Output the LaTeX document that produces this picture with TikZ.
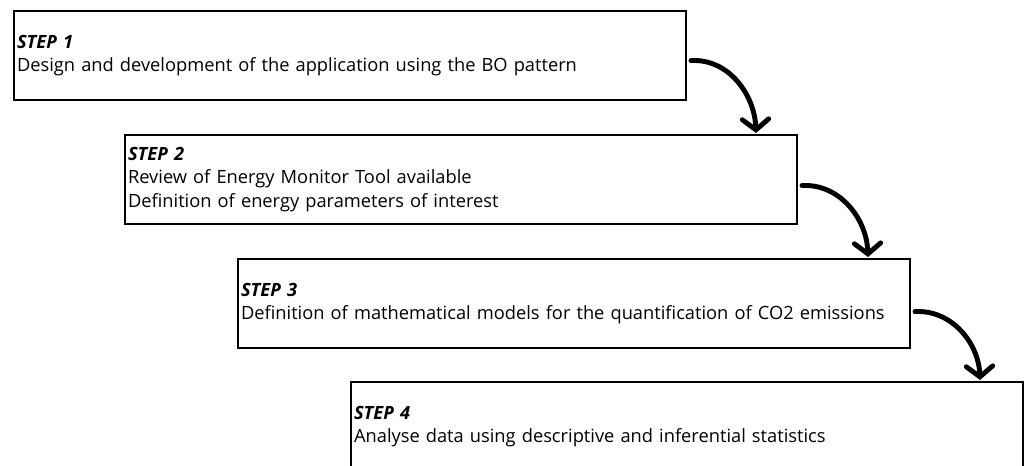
\documentclass[tikz,border=0pt]{standalone}
\usepackage{fontspec}
\setmainfont{Open Sans}
\usetikzlibrary{arrows.meta}

\tikzset{
    stepbox/.style = {draw, line width=1.2pt, anchor=north west, align=left,
                      text width=13.32cm, inner xsep=0.06cm, inner ysep=0pt,
                      minimum height=1.78cm, font=\fontsize{10.4}{13.6}\selectfont},
    flow/.style    = {line width=2.8pt, line cap=round,
                      -{Straight Barb[length=6pt,width=15pt,line cap=round]}}
}

\begin{document}
\begin{tikzpicture}[x=0.02cm, y=-0.02cm]
    \useasboundingbox (0,0) rectangle (1024,466);
    \clip (0,0) rectangle (1024,466);
    \node[stepbox] (step1) at (13,10)  {\textbf{\textit{STEP 1}}\\
        Design and development of the application using the BO pattern};
    \node[stepbox] (step2) at (124,134) {\textbf{\textit{STEP 2}}\\
        Review of Energy Monitor Tool available\\
        Definition of energy parameters of interest};
    \node[stepbox] (step3) at (237,258) {\textbf{\textit{STEP 3}}\\
        Definition of mathematical models for the quantification of CO2 emissions};
    \node[stepbox] (step4) at (350,381) {\textbf{\textit{STEP 4}}\\
        Analyse data using descriptive and inferential statistics};
    % curved arrows from one step down to the next
    \draw[flow] ([shift={(4,5)}]step1.east) to[out=3,in=92] ([shift={(-42,-1)}]step2.north east);
    \draw[flow] ([shift={(4,6)}]step2.east) to[out=3,in=92] ([shift={(-43,-1)}]step3.north east);
    \draw[flow] ([shift={(4,8)}]step3.east) to[out=3,in=92] ([shift={(-44,-1)}]step4.north east);
\end{tikzpicture}
\end{document}
